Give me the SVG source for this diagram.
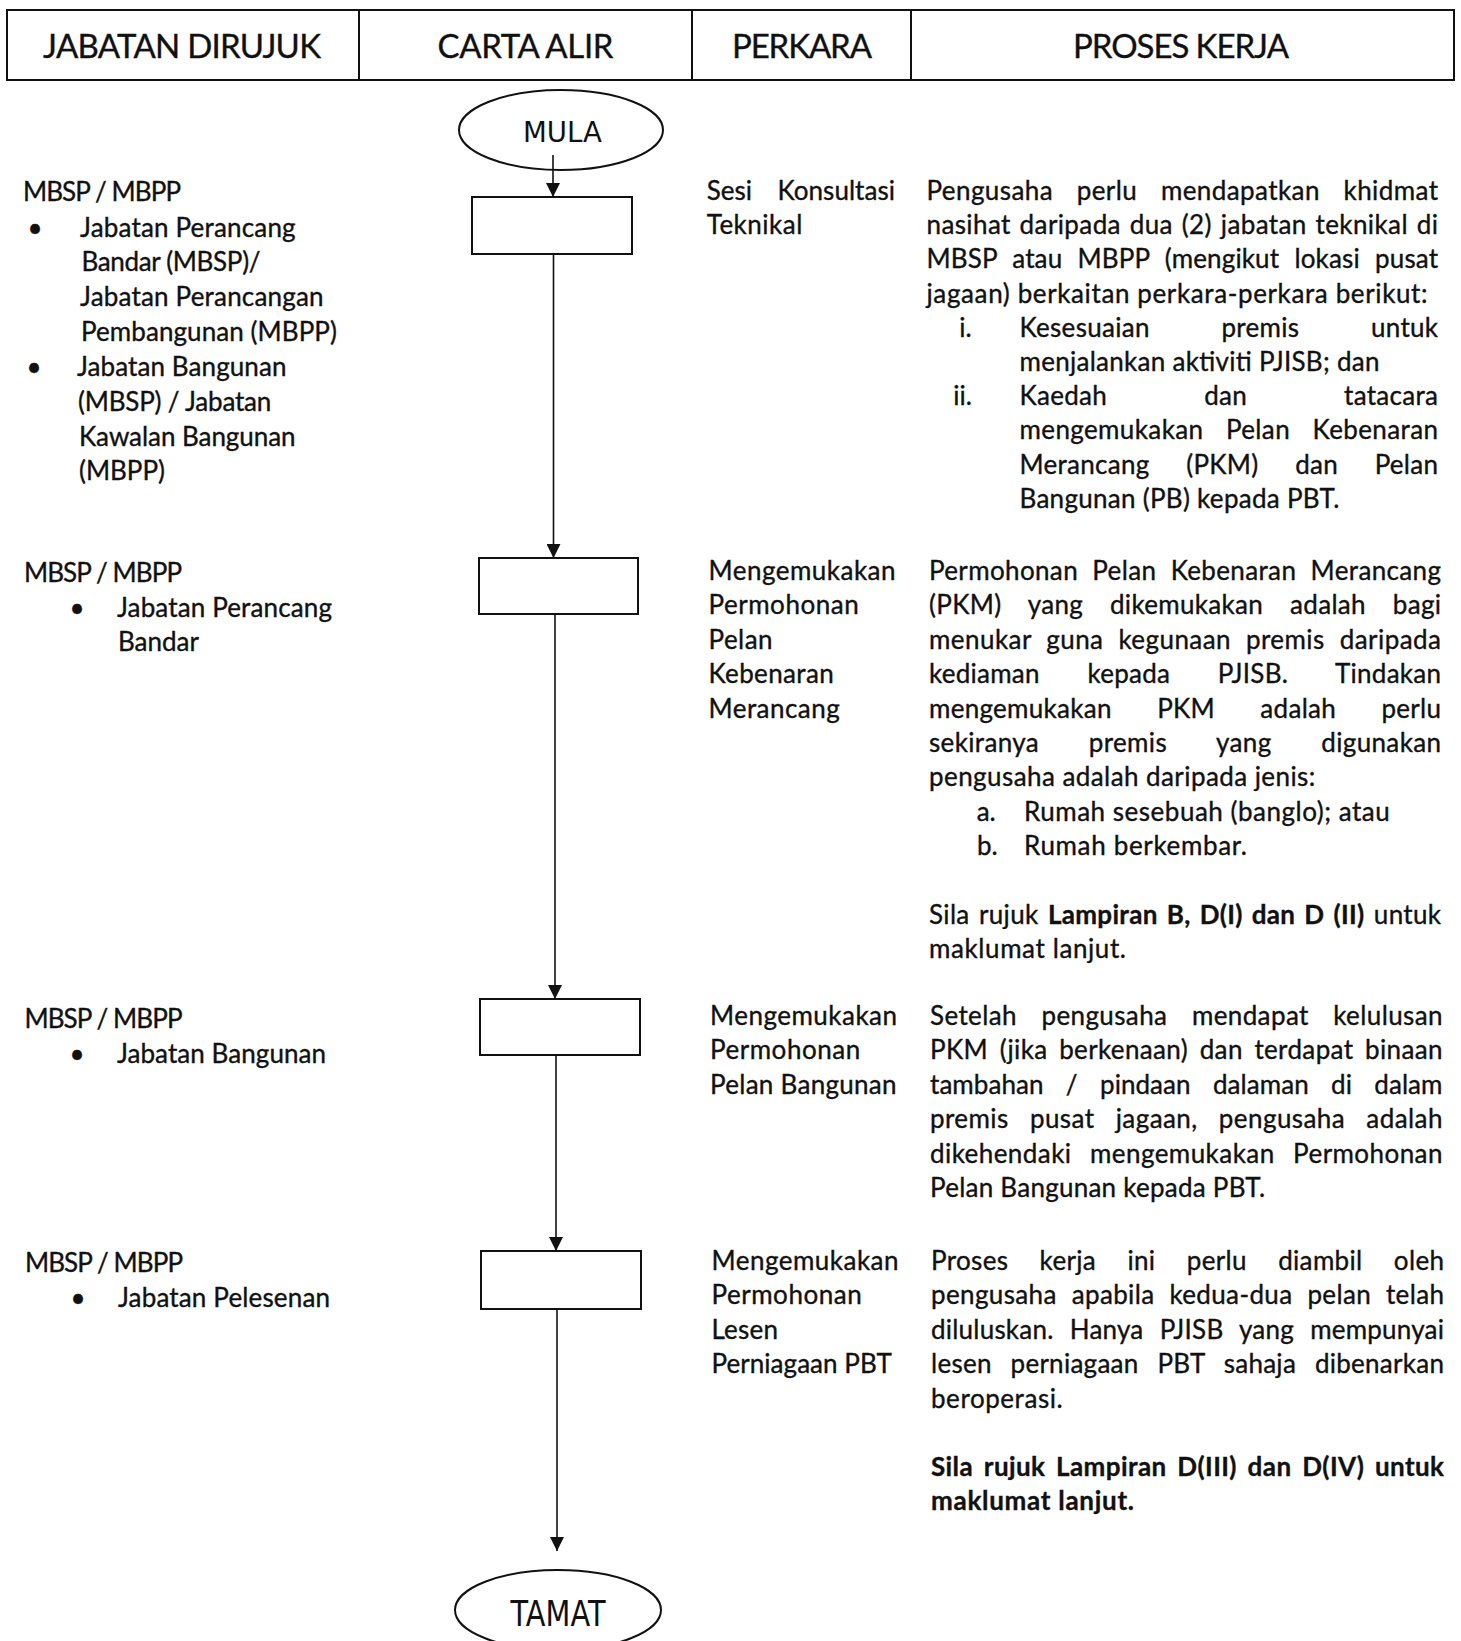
<svg xmlns="http://www.w3.org/2000/svg" width="1461" height="1641" viewBox="0 0 1461 1641">
<defs>
<style>
.t{font-family:Lato,"Liberation Sans",sans-serif;font-size:26px;fill:#111;stroke:#111;stroke-width:0.35}
.b{font-weight:bold}
.h{font-size:33px}
.o{font-family:"DejaVu Sans",sans-serif;fill:#111}
.sh{fill:#fff;stroke:#111;stroke-width:2}
.ln{stroke:#111;stroke-width:2}
#conn line{stroke:#111;stroke-width:1.6;marker-end:url(#ah)}
</style>
<marker id="ah" markerUnits="userSpaceOnUse" markerWidth="14" markerHeight="14" refX="14" refY="7" orient="auto"><path d="M0,0 L14,7 L0,14 z" fill="#111"/></marker>
</defs>
<rect width="1461" height="1641" fill="#fff"/>

<g id="header">
<rect x="7" y="10" width="1447" height="70" fill="none" class="ln"/>
<line x1="359" y1="10" x2="359" y2="80" class="ln"/>
<line x1="692" y1="10" x2="692" y2="80" class="ln"/>
<line x1="911" y1="10" x2="911" y2="80" class="ln"/>
<text class="t h" x="182" y="58" text-anchor="middle" textLength="278" lengthAdjust="spacing">JABATAN DIRUJUK</text>
<text class="t h" x="525.5" y="58" text-anchor="middle" textLength="176" lengthAdjust="spacing">CARTA ALIR</text>
<text class="t h" x="802" y="58" text-anchor="middle" textLength="140" lengthAdjust="spacing">PERKARA</text>
<text class="t h" x="1181" y="58" text-anchor="middle" textLength="216" lengthAdjust="spacing">PROSES KERJA</text>
</g>

<g id="conn">
<line x1="553" y1="155" x2="553" y2="197"/>
<line x1="553.5" y1="254" x2="553.5" y2="558"/>
<line x1="555" y1="614" x2="555" y2="999"/>
<line x1="556" y1="1055" x2="556" y2="1251"/>
<line x1="557" y1="1309" x2="557" y2="1551"/>
</g>

<g id="mula">
<ellipse cx="561" cy="130" rx="102" ry="40" fill="none" stroke="#111" stroke-width="2"/>
<text class="o" x="562.5" y="142" font-size="28" text-anchor="middle" textLength="79" lengthAdjust="spacingAndGlyphs">MULA</text>
</g>
<g id="box1"><rect x="472" y="197" width="160" height="57" class="sh"/></g>
<g id="box2"><rect x="479" y="558" width="159" height="56" class="sh"/></g>
<g id="box3"><rect x="480" y="999" width="160" height="56" class="sh"/></g>
<g id="box4"><rect x="481" y="1251" width="160" height="58" class="sh"/></g>
<g id="tamat">
<ellipse cx="558" cy="1610" rx="103" ry="40" fill="none" stroke="#111" stroke-width="2"/>
<text class="o" x="558" y="1626" font-size="36" text-anchor="middle" textLength="95" lengthAdjust="spacingAndGlyphs">TAMAT</text>
</g>

<g id="row1">
<text class="t" x="23" y="201" textLength="158" lengthAdjust="spacing">MBSP / MBPP</text>
<text class="t" x="35" y="236.5" text-anchor="middle">•</text>
<text class="t" x="80" y="236.5" textLength="215.6" lengthAdjust="spacing">Jabatan Perancang</text>
<text class="t" x="81.5" y="271" textLength="179" lengthAdjust="spacing">Bandar (MBSP)/</text>
<text class="t" x="80" y="306" textLength="243.6" lengthAdjust="spacing">Jabatan Perancangan</text>
<text class="t" x="81" y="341" textLength="256" lengthAdjust="spacing">Pembangunan (MBPP)</text>
<text class="t" x="34" y="376" text-anchor="middle">•</text>
<text class="t" x="77" y="376" textLength="209.5" lengthAdjust="spacing">Jabatan Bangunan</text>
<text class="t" x="78" y="411" textLength="193.3" lengthAdjust="spacing">(MBSP) / Jabatan</text>
<text class="t" x="79" y="445.5" textLength="216.6" lengthAdjust="spacing">Kawalan Bangunan</text>
<text class="t" x="79" y="480" textLength="86" lengthAdjust="spacing">(MBPP)</text>

<text class="t" x="706.7" y="200" textLength="188.3" lengthAdjust="spacing" word-spacing="18.6">Sesi Konsultasi</text>
<text class="t" x="706.7" y="234.2" textLength="95.7" lengthAdjust="spacing">Teknikal</text>

<text class="t" x="926.5" y="200" textLength="511.5" lengthAdjust="spacing" word-spacing="16.7">Pengusaha perlu mendapatkan khidmat</text>
<text class="t" x="926.5" y="234.2" textLength="511.5" lengthAdjust="spacing" word-spacing="1.8">nasihat daripada dua (2) jabatan teknikal di</text>
<text class="t" x="926.5" y="268.4" textLength="511.5" lengthAdjust="spacing" word-spacing="8.5">MBSP atau MBPP (mengikut lokasi pusat</text>
<text class="t" x="926.5" y="302.6" textLength="501" lengthAdjust="spacing">jagaan) berkaitan perkara-perkara berikut:</text>
<text class="t" x="959.3" y="336.8">i.</text>
<text class="t" x="1019.5" y="336.8" textLength="418.5" lengthAdjust="spacing" word-spacing="64.7">Kesesuaian premis untuk</text>
<text class="t" x="1019.5" y="371" textLength="360" lengthAdjust="spacing">menjalankan aktiviti PJISB; dan</text>
<text class="t" x="953.3" y="405.2">ii.</text>
<text class="t" x="1019.5" y="405.2" textLength="418.5" lengthAdjust="spacing" word-spacing="90.1">Kaedah dan tatacara</text>
<text class="t" x="1019.5" y="439.4" textLength="418.5" lengthAdjust="spacing" word-spacing="15.4">mengemukakan Pelan Kebenaran</text>
<text class="t" x="1019.5" y="473.6" textLength="418.5" lengthAdjust="spacing" word-spacing="29.7">Merancang (PKM) dan Pelan</text>
<text class="t" x="1019.5" y="507.8" textLength="320" lengthAdjust="spacing">Bangunan (PB) kepada PBT.</text>
</g>

<g id="row2">
<text class="t" x="24" y="582" textLength="158" lengthAdjust="spacing">MBSP / MBPP</text>
<text class="t" x="77" y="616.5" text-anchor="middle">•</text>
<text class="t" x="117" y="616.5" textLength="215" lengthAdjust="spacing">Jabatan Perancang</text>
<text class="t" x="118" y="651" textLength="81" lengthAdjust="spacing">Bandar</text>

<text class="t" x="708.5" y="580" textLength="187" lengthAdjust="spacing">Mengemukakan</text>
<text class="t" x="708.5" y="614.4" textLength="150.2" lengthAdjust="spacing">Permohonan</text>
<text class="t" x="708.5" y="648.8" textLength="64.1" lengthAdjust="spacing">Pelan</text>
<text class="t" x="708.5" y="683.2" textLength="125.3" lengthAdjust="spacing">Kebenaran</text>
<text class="t" x="708.5" y="717.6" textLength="131.2" lengthAdjust="spacing">Merancang</text>

<text class="t" x="929" y="580" textLength="512" lengthAdjust="spacing" word-spacing="7.3">Permohonan Pelan Kebenaran Merancang</text>
<text class="t" x="929" y="614.4" textLength="512" lengthAdjust="spacing" word-spacing="19.9">(PKM) yang dikemukakan adalah bagi</text>
<text class="t" x="929" y="648.8" textLength="512" lengthAdjust="spacing" word-spacing="7.8">menukar guna kegunaan premis daripada</text>
<text class="t" x="929" y="683.2" textLength="512" lengthAdjust="spacing" word-spacing="40.7">kediaman kepada PJISB. Tindakan</text>
<text class="t" x="929" y="717.6" textLength="512" lengthAdjust="spacing" word-spacing="38.4">mengemukakan PKM adalah perlu</text>
<text class="t" x="929" y="752" textLength="512" lengthAdjust="spacing" word-spacing="42.7">sekiranya premis yang digunakan</text>
<text class="t" x="929" y="786.4" textLength="386.3" lengthAdjust="spacing">pengusaha adalah daripada jenis:</text>
<text class="t" x="976.7" y="820.8">a.</text>
<text class="t" x="1024" y="820.8" textLength="365.7" lengthAdjust="spacing">Rumah sesebuah (banglo); atau</text>
<text class="t" x="977" y="855.2">b.</text>
<text class="t" x="1024" y="855.2" textLength="223" lengthAdjust="spacing">Rumah berkembar.</text>
<text class="t" x="929" y="923.6" textLength="512" lengthAdjust="spacing" word-spacing="2.4">Sila rujuk <tspan class="b">Lampiran B, D(I) dan D (II)</tspan> untuk</text>
<text class="t" x="929" y="958" textLength="197" lengthAdjust="spacing">maklumat lanjut.</text>
</g>

<g id="row3">
<text class="t" x="24.5" y="1028" textLength="158" lengthAdjust="spacing">MBSP / MBPP</text>
<text class="t" x="77" y="1062.5" text-anchor="middle">•</text>
<text class="t" x="117" y="1062.5" textLength="209" lengthAdjust="spacing">Jabatan Bangunan</text>

<text class="t" x="710" y="1025" textLength="187" lengthAdjust="spacing">Mengemukakan</text>
<text class="t" x="710" y="1059.4" textLength="150.2" lengthAdjust="spacing">Permohonan</text>
<text class="t" x="710" y="1093.8" textLength="186.6" lengthAdjust="spacing">Pelan Bangunan</text>

<text class="t" x="930" y="1025" textLength="512.5" lengthAdjust="spacing" word-spacing="17.5">Setelah pengusaha mendapat kelulusan</text>
<text class="t" x="930" y="1059.4" textLength="512.5" lengthAdjust="spacing" word-spacing="4.6">PKM (jika berkenaan) dan terdapat binaan</text>
<text class="t" x="930" y="1093.8" textLength="512.5" lengthAdjust="spacing" word-spacing="15.6">tambahan / pindaan dalaman di dalam</text>
<text class="t" x="930" y="1128.2" textLength="512.5" lengthAdjust="spacing" word-spacing="14.1">premis pusat jagaan, pengusaha adalah</text>
<text class="t" x="930" y="1162.6" textLength="512.5" lengthAdjust="spacing" word-spacing="11.4">dikehendaki mengemukakan Permohonan</text>
<text class="t" x="930" y="1197" textLength="335.2" lengthAdjust="spacing">Pelan Bangunan kepada PBT.</text>
</g>

<g id="row4">
<text class="t" x="25" y="1272" textLength="158" lengthAdjust="spacing">MBSP / MBPP</text>
<text class="t" x="78" y="1307" text-anchor="middle">•</text>
<text class="t" x="118" y="1307" textLength="212" lengthAdjust="spacing">Jabatan Pelesenan</text>

<text class="t" x="711.5" y="1270" textLength="187" lengthAdjust="spacing">Mengemukakan</text>
<text class="t" x="711.5" y="1304.4" textLength="150.2" lengthAdjust="spacing">Permohonan</text>
<text class="t" x="711.5" y="1338.8" textLength="66.5" lengthAdjust="spacing">Lesen</text>
<text class="t" x="711.5" y="1373.2" textLength="180.3" lengthAdjust="spacing">Perniagaan PBT</text>

<text class="t" x="931" y="1270" textLength="513" lengthAdjust="spacing" word-spacing="24.3">Proses kerja ini perlu diambil oleh</text>
<text class="t" x="931" y="1304.4" textLength="513" lengthAdjust="spacing" word-spacing="7.8">pengusaha apabila kedua-dua pelan telah</text>
<text class="t" x="931" y="1338.8" textLength="513" lengthAdjust="spacing" word-spacing="9.3">diluluskan. Hanya PJISB yang mempunyai</text>
<text class="t" x="931" y="1373.2" textLength="513" lengthAdjust="spacing" word-spacing="11.9">lesen perniagaan PBT sahaja dibenarkan</text>
<text class="t" x="931" y="1407.6" textLength="131.7" lengthAdjust="spacing">beroperasi.</text>
<text class="t b" x="931" y="1476" textLength="513" lengthAdjust="spacing" word-spacing="4">Sila rujuk Lampiran D(III) dan D(IV) untuk</text>
<text class="t b" x="931" y="1510.4" textLength="203" lengthAdjust="spacing">maklumat lanjut.</text>
</g>
</svg>
